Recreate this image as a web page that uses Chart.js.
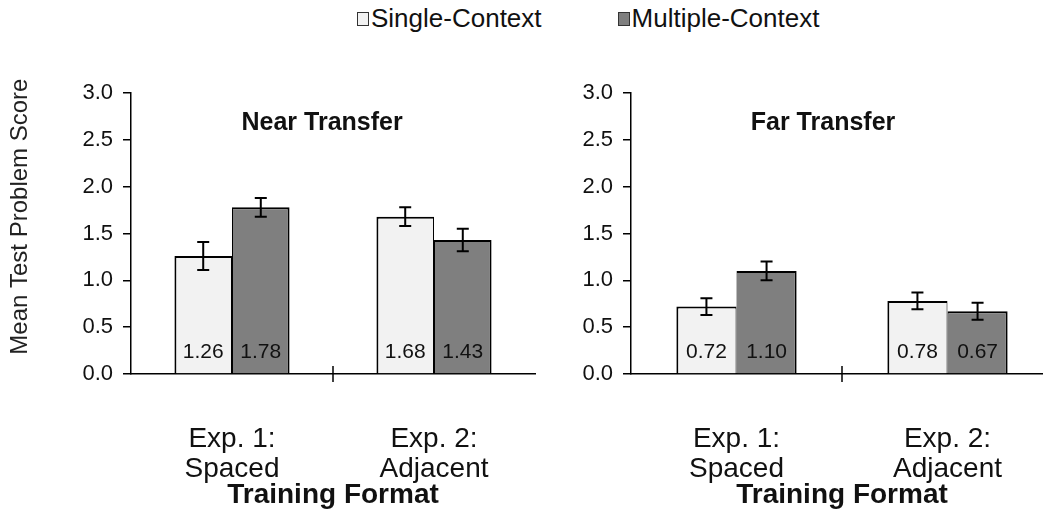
<!DOCTYPE html>
<html>
<head>
<meta charset="utf-8">
<title>Mean Test Problem Score by Training Format</title>
<script src="https://cdn.jsdelivr.net/npm/chart.js@4.4.1/dist/chart.umd.min.js"></script>
<style>
  html, body { margin: 0; padding: 0; background: #fff; }
  body { width: 1043px; height: 511px; overflow: hidden; position: relative;
         font-family: "Liberation Sans", Arial, sans-serif; }
  .panel { position: absolute; top: 0; height: 511px; }
  #leftPanel { left: 0; width: 560px; }
  #rightPanel { left: 560px; width: 520px; }
  #legend { position: absolute; top: 3px; left: 357px; display: flex; align-items: center;
            font-size: 26px; color: #111; white-space: nowrap; }
  .item { display: flex; align-items: center; margin-right: 76px; }
  .swatch { width: 10px; height: 12px; border: 1px solid #333; margin-right: 2px; box-sizing: content-box; }
</style>
</head>
<body>
<div id="legend"></div>
<div class="panel" id="leftPanel"><canvas id="nearChart"></canvas></div>
<div class="panel" id="rightPanel"><canvas id="farChart"></canvas></div>
<script>
// ---- data ----
const categories = [["Exp. 1:", "Spaced"], ["Exp. 2:", "Adjacent"]];
const seriesNames = ["Single-Context", "Multiple-Context"];
const yTickValues = [0, 0.5, 1.0, 1.5, 2.0, 2.5, 3.0];

const nearSingle = [1.26, 1.68];
const nearMultiple = [1.78, 1.43];
const nearSingleErr = [0.15, 0.10];
const nearMultipleErr = [0.10, 0.12];

const farSingle = [0.72, 0.78];
const farMultiple = [1.10, 0.67];
const farSingleErr = [0.09, 0.09];
const farMultipleErr = [0.10, 0.09];

// ---- styles ----
const FONT = '"Liberation Sans", Arial, sans-serif';
const seriesColors = ['#f2f2f2', '#7f7f7f'];
const INK = '#111';

// legend
const legendEl = document.getElementById('legend');
seriesNames.forEach((name, i) => {
  const item = document.createElement('div');
  item.className = 'item';
  const sw = document.createElement('span');
  sw.className = 'swatch';
  sw.style.background = seriesColors[i];
  const label = document.createElement('span');
  label.textContent = name;
  item.appendChild(sw);
  item.appendChild(label);
  legendEl.appendChild(item);
});

// error bars (mean ± error) drawn from the y scale
const errorBarPlugin = {
  id: 'errorBars',
  afterDatasetsDraw(chart) {
    const ctx = chart.ctx;
    const y = chart.scales.y;
    ctx.save();
    ctx.strokeStyle = '#000';
    ctx.lineWidth = 2;
    chart.data.datasets.forEach((ds, di) => {
      const meta = chart.getDatasetMeta(di);
      meta.data.forEach((bar, i) => {
        const v = ds.data[i], e = ds.errors[i];
        const top = y.getPixelForValue(v + e);
        const bot = y.getPixelForValue(v - e);
        const cap = 6;
        ctx.beginPath();
        ctx.moveTo(bar.x, top); ctx.lineTo(bar.x, bot);
        ctx.moveTo(bar.x - cap, top); ctx.lineTo(bar.x + cap, top);
        ctx.moveTo(bar.x - cap, bot); ctx.lineTo(bar.x + cap, bot);
        ctx.stroke();
      });
    });
    ctx.restore();
  }
};

// value printed near the base of each bar
const valueLabelPlugin = {
  id: 'valueLabels',
  afterDatasetsDraw(chart) {
    const ctx = chart.ctx;
    const base = chart.scales.y.getPixelForValue(0);
    ctx.save();
    ctx.font = '21px ' + FONT;
    ctx.fillStyle = INK;
    ctx.textAlign = 'center';
    ctx.textBaseline = 'middle';
    chart.data.datasets.forEach((ds, di) => {
      chart.getDatasetMeta(di).data.forEach((bar, i) => {
        ctx.fillText(ds.data[i].toFixed(2), bar.x, base - 22);
      });
    });
    ctx.restore();
  }
};

// panel heading inside the plot area, the crossing tick between categories,
// and (left panel only) the vertical value-axis caption
const panelDecorPlugin = {
  id: 'panelDecor',
  afterDraw(chart, args, opts) {
    const ctx = chart.ctx;
    const area = chart.chartArea;
    const x = chart.scales.x;
    ctx.save();
    ctx.font = 'bold 25px ' + FONT;
    ctx.fillStyle = INK;
    ctx.textAlign = 'center';
    ctx.textBaseline = 'middle';
    ctx.fillText(opts.text, area.left + area.width * opts.xFrac, area.top + 30);

    const mid = (x.getPixelForValue(0) + x.getPixelForValue(1)) / 2;
    ctx.strokeStyle = '#000';
    ctx.lineWidth = 1.5;
    ctx.beginPath();
    ctx.moveTo(mid, area.bottom - 8);
    ctx.lineTo(mid, area.bottom + 8);
    ctx.stroke();

    if (opts.yTitle) {
      ctx.translate(20, area.top + area.height * 0.44);
      ctx.rotate(-Math.PI / 2);
      ctx.font = '24px ' + FONT;
      ctx.fillStyle = '#222';
      ctx.fillText(opts.yTitle, 0, 0);
    }
    ctx.restore();
  }
};

function makeChart(canvasId, opts) {
  return new Chart(document.getElementById(canvasId), {
    type: 'bar',
    data: {
      labels: categories,
      datasets: [
        { label: seriesNames[0], data: opts.single, errors: opts.singleErr,
          backgroundColor: seriesColors[0], borderColor: '#000',
          borderWidth: { top: 2, left: 2, right: 1, bottom: 0 }, borderSkipped: false },
        { label: seriesNames[1], data: opts.multiple, errors: opts.multipleErr,
          backgroundColor: seriesColors[1], borderColor: '#000',
          borderWidth: { top: 2, left: 1, right: 2, bottom: 0 }, borderSkipped: false }
      ]
    },
    options: {
      responsive: false,
      maintainAspectRatio: false,
      animation: false,
      events: [],
      layout: { padding: { top: 93, right: opts.padRight, bottom: 0, left: 0 } },
      datasets: { bar: { categoryPercentage: 0.57, barPercentage: 1.0 } },
      plugins: {
        legend: { display: false },
        tooltip: { enabled: false },
        panelDecor: { text: opts.title, xFrac: opts.titleFrac, yTitle: opts.yTitle }
      },
      scales: {
        x: {
          offset: true,
          afterFit: s => { s.height = 137; },
          grid: { display: false, drawTicks: false },
          border: { display: true, color: '#000', width: 1.5 },
          ticks: { padding: 50, color: INK, maxRotation: 0, autoSkip: false,
                   font: { size: 28, family: FONT, lineHeight: '30px' } },
          title: { display: true, text: 'Training Format', color: INK,
                   font: { size: 28, weight: 'bold', family: FONT, lineHeight: 1.1 },
                   padding: { top: 0, bottom: 0 } }
        },
        y: {
          min: 0, max: 3,
          afterBuildTicks: s => { s.ticks = yTickValues.map(v => ({ value: v })); },
          afterFit: s => { s.width = opts.yWidth; },
          grid: { drawOnChartArea: false, drawTicks: true, tickLength: 8, color: '#000', lineWidth: 1.5 },
          border: { display: true, color: '#000', width: 1.5 },
          ticks: { padding: 10, color: INK, font: { size: 22, family: FONT },
                   callback: v => Number(v).toFixed(1) }
        }
      }
    },
    plugins: [errorBarPlugin, valueLabelPlugin, panelDecorPlugin]
  });
}

function sizeCanvas(id, w, h) {
  const c = document.getElementById(id);
  c.width = w; c.height = h;
  c.style.width = w + 'px'; c.style.height = h + 'px';
}
sizeCanvas('nearChart', 560, 511);
sizeCanvas('farChart', 520, 511);

makeChart('nearChart', {
  title: 'Near Transfer', titleFrac: 0.473,
  single: nearSingle, multiple: nearMultiple,
  singleErr: nearSingleErr, multipleErr: nearMultipleErr,
  yWidth: 131, padRight: 25, yTitle: 'Mean Test Problem Score'
});
makeChart('farChart', {
  title: 'Far Transfer', titleFrac: 0.455,
  single: farSingle, multiple: farMultiple,
  singleErr: farSingleErr, multipleErr: farMultipleErr,
  yWidth: 71, padRight: 27
});
</script>
</body>
</html>
